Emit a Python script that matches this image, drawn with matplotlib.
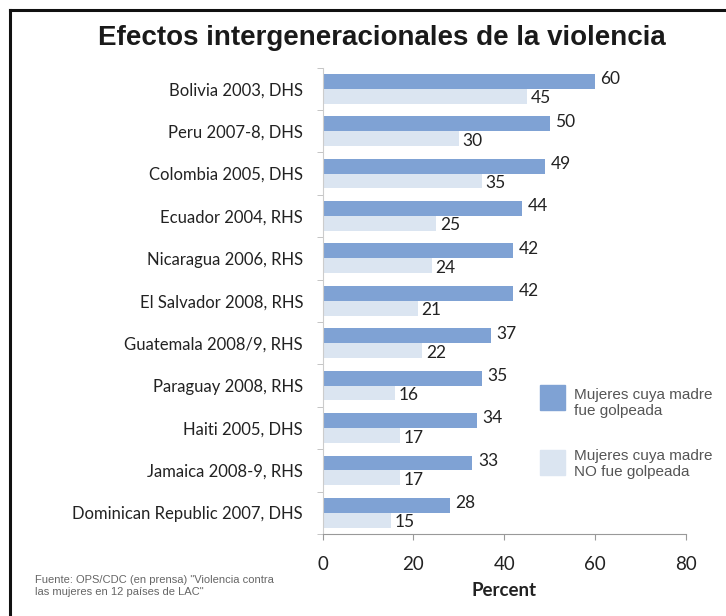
import numpy as np
import matplotlib
matplotlib.use("Agg")
import matplotlib.pyplot as plt
from matplotlib.lines import Line2D
from matplotlib.patches import Rectangle

# data
paises = ["Bolivia 2003, DHS", "Peru 2007-8, DHS", "Colombia 2005, DHS",
          "Ecuador 2004, RHS", "Nicaragua 2006, RHS", "El Salvador 2008, RHS",
          "Guatemala 2008/9, RHS", "Paraguay 2008, RHS", "Haiti 2005, DHS",
          "Jamaica 2008-9, RHS", "Dominican Republic 2007, DHS"]
madre_golpeada = [60, 50, 49, 44, 42, 42, 37, 35, 34, 33, 28]
madre_no_golpeada = [45, 30, 35, 25, 24, 21, 22, 16, 17, 17, 15]
x_ticks = [0, 20, 40, 60, 80]

oscuro = "#7fa2d4"
claro = "#dbe5f1"
label_font = ["Lato", "DejaVu Sans"]

fig = plt.figure(figsize=(7.26, 6.16), dpi=100)
W, H = 726, 616

# black frame on top and left like the screenshot
fig.add_artist(Line2D([10/W, 10/W], [0, 1 - 10/H], color="#111111", lw=2.2))
fig.add_artist(Line2D([10/W, 1], [1 - 10/H, 1 - 10/H], color="#111111", lw=2.2))

fig.text(382/W, 1 - 38/H, "Efectos intergeneracionales de la violencia",
         ha="center", va="center", fontsize=20, fontweight="bold",
         family="Liberation Sans", color="#1a1a1a")

ax = fig.add_axes([322.5/W, 1 - 534/H, 363.5/W, (534 - 67.5)/H])

y = np.arange(len(paises))
h = 0.35
ax.barh(y - h/2, madre_golpeada, height=h, color=oscuro, edgecolor="none")
ax.barh(y + h/2, madre_no_golpeada, height=h, color=claro, edgecolor="none")

for i in range(len(paises)):
    ax.text(madre_golpeada[i] + 1.2, y[i] - h/2 - 0.05, str(madre_golpeada[i]),
            va="center", ha="left", fontsize=12.5, family=label_font, color="#222222")
    ax.text(madre_no_golpeada[i] + 0.8, y[i] + h/2 + 0.05, str(madre_no_golpeada[i]),
            va="center", ha="left", fontsize=12.5, family=label_font, color="#222222")

ax.set_xlim(0, 80)
ax.set_ylim(len(paises) - 0.5, -0.5)
ax.set_xticks(x_ticks)
ax.set_xticklabels([str(t) for t in x_ticks], family=label_font, fontsize=13.5, color="#222222")
ax.set_yticks(y)
ax.set_yticklabels(paises, family=label_font, fontsize=12, color="#222222")
ax.tick_params(axis="y", length=0, pad=14)
ax.tick_params(axis="x", length=4, color="#999999", pad=12)
ax.set_yticks(np.arange(len(paises) + 1) - 0.5, minor=True)
ax.tick_params(axis="y", which="minor", length=4, color="#bbbbbb")

for s in ["top", "right"]:
    ax.spines[s].set_visible(False)
ax.spines["left"].set_color("#cccccc")
ax.spines["bottom"].set_color("#999999")

ax.set_xlabel("Percent", family=label_font, fontsize=13.5, fontweight="bold",
              color="#222222", labelpad=6)

# legend drawn by hand on the right
fig.add_artist(Rectangle((540/W, 1 - 410/H), 25/W, 25/H, transform=fig.transFigure,
                         color=oscuro))
fig.add_artist(Rectangle((540/W, 1 - 475/H), 25/W, 25/H, transform=fig.transFigure,
                         color=claro))
fig.text(574/W, 1 - 403/H, "Mujeres cuya madre\nfue golpeada", ha="left", va="center",
         fontsize=11, family="Liberation Sans", color="#555555", linespacing=1.1)
fig.text(574/W, 1 - 464/H, "Mujeres cuya madre\nNO fue golpeada", ha="left", va="center",
         fontsize=11, family="Liberation Sans", color="#555555", linespacing=1.1)

fig.text(35/W, 1 - 586/H, "Fuente: OPS/CDC (en prensa) \"Violencia contra\nlas mujeres en 12 países de LAC\"",
         ha="left", va="center", fontsize=8, family="Liberation Sans",
         color="#666666", linespacing=1.15)

fig.savefig("out.png", dpi=100)
